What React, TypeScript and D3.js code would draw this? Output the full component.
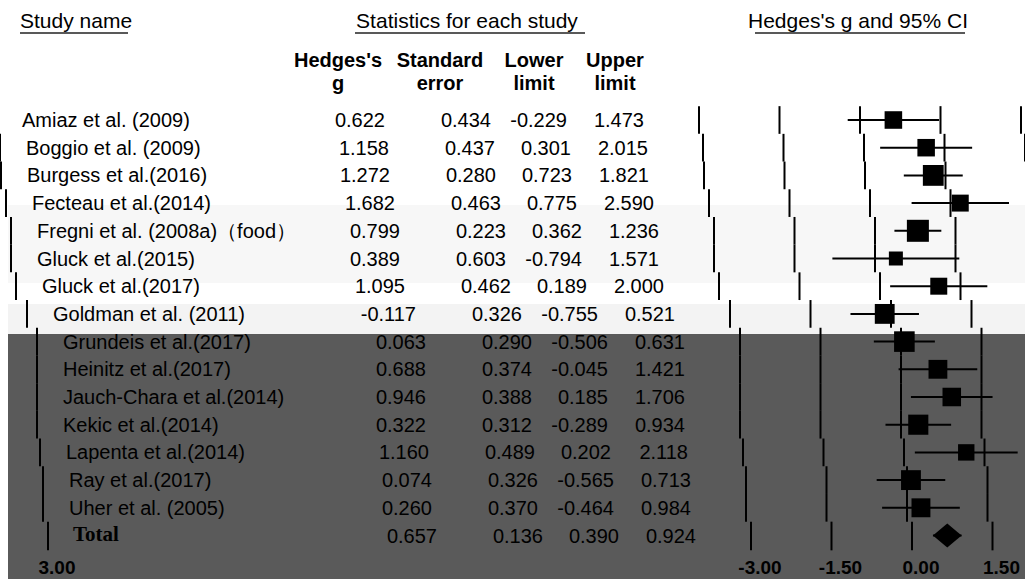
import * as d3 from "d3";

const studies = [
  "Amiaz et al. (2009)",
  "Boggio et al. (2009)",
  "Burgess et al.(2016)",
  "Fecteau et al.(2014)",
  "Fregni et al. (2008a)（food）",
  "Gluck et al.(2015)",
  "Gluck et al.(2017)",
  "Goldman et al. (2011)",
  "Grundeis et al.(2017)",
  "Heinitz et al.(2017)",
  "Jauch-Chara et al.(2014)",
  "Kekic et al.(2014)",
  "Lapenta et al.(2014)",
  "Ray et al.(2017)",
  "Uher et al. (2005)",
  "Total",
];
const hedgesG = [0.622, 1.158, 1.272, 1.682, 0.799, 0.389, 1.095, -0.117, 0.063, 0.688, 0.946, 0.322, 1.16, 0.074, 0.26, 0.657];
const stdError = [0.434, 0.437, 0.28, 0.463, 0.223, 0.603, 0.462, 0.326, 0.29, 0.374, 0.388, 0.312, 0.489, 0.326, 0.37, 0.136];
const lowerLimit = [-0.229, 0.301, 0.723, 0.775, 0.362, -0.794, 0.189, -0.755, -0.506, -0.045, 0.185, -0.289, 0.202, -0.565, -0.464, 0.39];
const upperLimit = [1.473, 2.015, 1.821, 2.59, 1.236, 1.571, 2.0, 0.521, 0.631, 1.421, 1.706, 0.934, 2.118, 0.713, 0.984, 0.924];
const axisTicks = [-3, -1.5, 0, 1.5, 3];
const tickLabels = ["-3.00", "-1.50", "0.00", "1.50", "3.00"];
const colHeads = [
  ["Hedges's", "g"],
  ["Standard", "error"],
  ["Lower", "limit"],
  ["Upper", "limit"],
];

// the source scan is sheared strip by strip; each row slides right a bit
// and whatever falls off the right edge comes back in on the left
const rowShift = [0, 4, 5, 10, 15, 15, 20, 31, 41, 41, 41, 41, 44, 47, 47, 52];
const axisShift = 61;

const W = 1025;
const H = 579;
const sans = "'Liberation Sans', Arial, sans-serif";
const colRight = [385, 491, 567, 644];
const headCenter = [338, 440, 534, 615];

const fmt = d3
  .formatLocale({ decimal: ".", thousands: ",", grouping: [3], currency: ["", ""], minus: "-" })
  .format(".3f");

export default function App() {
  const y = d3.scalePoint<string>().domain(studies).range([120, 535.5]);
  const x = d3.scaleLinear().domain([-3, 3]).range([699, 1021]);
  const box = d3
    .scaleLinear()
    .domain(d3.extent(stdError.slice(0, -1)) as [number, number])
    .range([22, 14]);
  const half = y.step() / 2;

  const gridLines = (i: number) => {
    const cy = y(studies[i])!;
    const isTotal = i === studies.length - 1;
    return axisTicks.map((t) => (
      <line
        key={t}
        x1={x(t)}
        x2={x(t)}
        y1={cy - half}
        y2={cy + half + (isTotal ? 1 : 0)}
        stroke="#000"
        strokeWidth={2}
      />
    ));
  };

  const row = (i: number) => {
    const name = studies[i];
    const cy = y(name)!;
    const isTotal = i === studies.length - 1;
    const vals = [hedgesG[i], stdError[i], lowerLimit[i], upperLimit[i]];
    const s = box(stdError[i]);
    return (
      <g key={i} transform={`translate(${rowShift[i]},0)`}>
        {isTotal ? (
          <text x={21} y={cy + 5} fontFamily="'Liberation Serif', 'Times New Roman', serif" fontWeight="bold" fontSize={21}>
            {name}
          </text>
        ) : (
          <text x={22} y={cy + 7} fontFamily={sans} fontSize={20}>
            {name}
          </text>
        )}
        {vals.map((v, j) => (
          <text key={j} x={colRight[j]} y={cy + 7} textAnchor="end" fontFamily={sans} fontSize={20}>
            {fmt(v)}
          </text>
        ))}
        {gridLines(i)}
        <line x1={x(lowerLimit[i])} x2={x(upperLimit[i])} y1={cy} y2={cy} stroke="#000" strokeWidth={2} />
        {isTotal ? (
          <polygon
            points={[
              [x(lowerLimit[i]), cy],
              [x(hedgesG[i]), cy - 12],
              [x(upperLimit[i]), cy],
              [x(hedgesG[i]), cy + 12],
            ]
              .map((p) => p.join(","))
              .join(" ")}
            fill="#000"
          />
        ) : (
          <rect x={x(hedgesG[i]) - s / 2} y={cy - s / 2} width={s} height={s} fill="#000" />
        )}
      </g>
    );
  };

  // wrapped part: only the reference lines that spill past the right edge
  const wrapped = (i: number) => (
    <g key={`w${i}`} transform={`translate(${rowShift[i] - W},0)`}>
      {gridLines(i)}
    </g>
  );

  return (
    <svg width={W} height={H} style={{ position: "absolute", left: 0, top: 0, background: "#fff" }}>
      <rect x={0} y={0} width={W} height={H} fill="#fff" />
      <rect x={8} y={205} width={W - 8} height={78} fill="#f7f7f7" />
      <rect x={8} y={304} width={W - 8} height={30} fill="#f3f3f3" />
      <rect x={8} y={334} width={W - 8} height={H - 334} fill="#5a5a5a" />

      <g fontFamily={sans} fontSize={21} fill="#000">
        <text x={20} y={28}>Study name</text>
        <line x1={20} x2={128} y1={33} y2={33} stroke="#222" strokeWidth={1.5} />
        <text x={467} y={28} textAnchor="middle">Statistics for each study</text>
        <line x1={355} x2={585} y1={33} y2={33} stroke="#222" strokeWidth={1.5} />
        <text x={858} y={28} textAnchor="middle">Hedges's g and 95% CI</text>
        <line x1={755} x2={965} y1={33} y2={33} stroke="#222" strokeWidth={1.5} />
      </g>

      <g fontFamily={sans} fontSize={20} fontWeight="bold" textAnchor="middle">
        {colHeads.map((h, j) => (
          <g key={j}>
            <text x={headCenter[j]} y={67}>{h[0]}</text>
            <text x={headCenter[j]} y={90}>{h[1]}</text>
          </g>
        ))}
      </g>

      {studies.map((_, i) => row(i))}
      {studies.map((_, i) => wrapped(i))}

      <g fontFamily={sans} fontWeight="bold" fontSize={19} textAnchor="middle">
        {axisTicks.map((t, k) => {
          const px = x(t) + axisShift;
          return (
            <text key={t} x={px > W ? px - W : px} y={574}>
              {tickLabels[k]}
            </text>
          );
        })}
      </g>
    </svg>
  );
}
